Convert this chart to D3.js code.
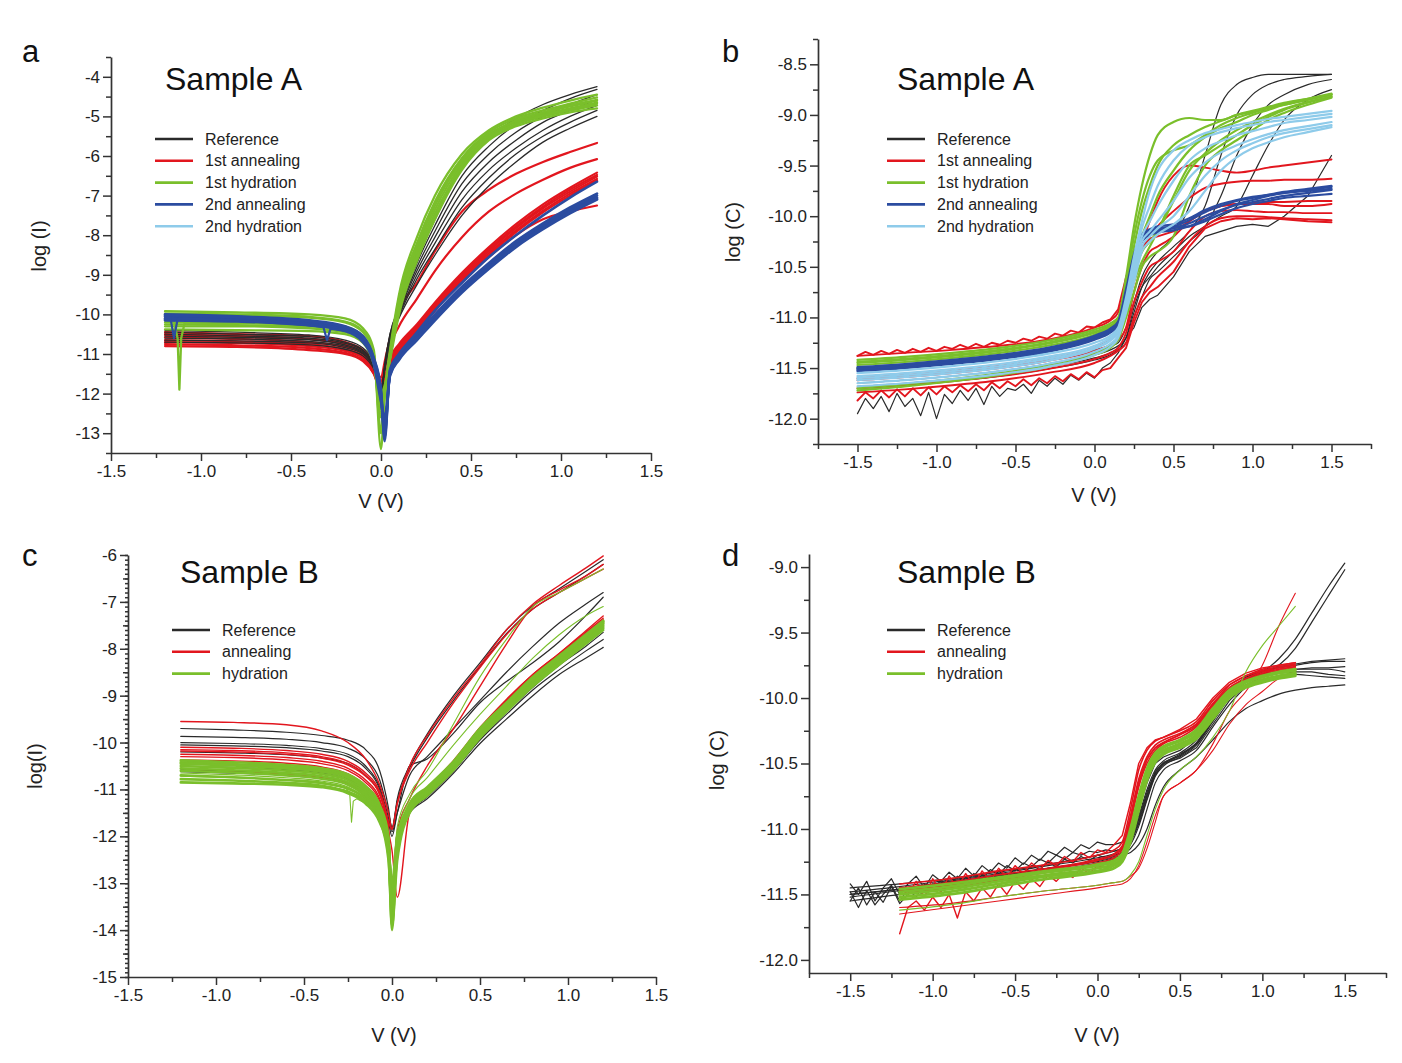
<!DOCTYPE html>
<html><head><meta charset="utf-8">
<script src="https://cdn.jsdelivr.net/npm/d3@7"></script>
<style>
body{margin:0;background:#fff}
svg{display:block}
text{font-family:"Liberation Sans",Arial,Helvetica,sans-serif}
</style>
</head><body>
<svg id="chart" width="1402" height="1063"></svg>
<script>
// ================= DATA =================
// ---- tick labels ----
const xTicksA = [-1.5,-1.0,-0.5,0.0,0.5,1.0,1.5];
const yTicksA = [-13,-12,-11,-10,-9,-8,-7,-6,-5,-4];
const xTicksB = [-1.5,-1.0,-0.5,0.0,0.5,1.0,1.5];
const yTicksB = [-12.0,-11.5,-11.0,-10.5,-10.0,-9.5,-9.0,-8.5];
const xTicksC = [-1.5,-1.0,-0.5,0.0,0.5,1.0,1.5];
const yTicksC = [-15,-14,-13,-12,-11,-10,-9,-8,-7,-6];
const xTicksD = [-1.5,-1.0,-0.5,0.0,0.5,1.0,1.5];
const yTicksD = [-12.0,-11.5,-11.0,-10.5,-10.0,-9.5,-9.0];

const legendA = ["Reference","1st annealing","1st hydration","2nd annealing","2nd hydration"];
const legendB = ["Reference","annealing","hydration"];

// ---- Panel a : log(I) vs V, Sample A ----
const aV = [-1.2,-0.8,-0.4,-0.2,-0.1,-0.04,0,0.02,0.05,0.1,0.2,0.3,0.45,0.6,0.75,0.9,1.05,1.2];
const aReference = [
 [-10.4,-10.45,-10.52,-10.65,-10.85,-11.2,-12.2,-11.3,-10.5,-9.8,-8.6,-7.6,-6.3,-5.55,-5.05,-4.7,-4.45,-4.25],
 [-10.45,-10.5,-10.56,-10.7,-10.9,-11.25,-12.1,-11.3,-10.5,-9.85,-8.7,-7.75,-6.5,-5.75,-5.2,-4.85,-4.55,-4.32],
 [-10.5,-10.54,-10.6,-10.73,-10.92,-11.28,-12.0,-11.35,-10.55,-9.9,-8.8,-7.9,-6.7,-5.95,-5.4,-5.0,-4.7,-4.45],
 [-10.55,-10.58,-10.64,-10.77,-10.95,-11.3,-12.0,-11.35,-10.6,-9.95,-8.9,-8.05,-6.9,-6.15,-5.6,-5.15,-4.85,-4.58],
 [-10.6,-10.62,-10.68,-10.8,-10.98,-11.32,-11.9,-11.4,-10.6,-10.0,-9.0,-8.2,-7.1,-6.35,-5.8,-5.35,-5.0,-4.72],
 [-10.65,-10.67,-10.72,-10.84,-11.0,-11.35,-11.9,-11.4,-10.65,-10.05,-9.1,-8.35,-7.3,-6.55,-5.95,-5.5,-5.15,-4.85],
 [-10.7,-10.72,-10.77,-10.88,-11.05,-11.38,-11.85,-11.45,-10.7,-10.1,-9.25,-8.5,-7.5,-6.75,-6.15,-5.65,-5.3,-5.0]
];
const aAnnealing1 = [
 [-10.5,-10.55,-10.62,-10.75,-10.95,-11.3,-11.75,-11.6,-11.1,-10.75,-10.25,-9.7,-8.95,-8.3,-7.72,-7.22,-6.8,-6.42],
 [-10.58,-10.62,-10.7,-10.82,-11.0,-11.35,-11.8,-11.65,-11.15,-10.8,-10.3,-9.75,-9.0,-8.35,-7.78,-7.28,-6.85,-6.48],
 [-10.65,-10.68,-10.75,-10.88,-11.05,-11.4,-11.85,-11.7,-11.2,-10.85,-10.35,-9.8,-9.05,-8.4,-7.82,-7.32,-6.9,-6.52],
 [-10.7,-10.72,-10.8,-10.92,-11.1,-11.45,-11.9,-11.75,-11.25,-10.9,-10.4,-9.85,-9.1,-8.45,-7.88,-7.38,-6.95,-6.58],
 [-10.75,-10.78,-10.85,-10.97,-11.15,-11.5,-11.95,-11.8,-11.3,-10.95,-10.45,-9.9,-9.15,-8.5,-7.92,-7.42,-7.0,-6.62],
 [-10.8,-10.82,-10.9,-11.0,-11.18,-11.5,-11.9,-11.8,-11.3,-10.95,-10.45,-9.9,-9.15,-8.55,-8.0,-7.6,-7.4,-7.25],
 [-10.45,-10.5,-10.55,-10.7,-10.9,-11.2,-11.6,-11.2,-10.6,-9.9,-9.2,-8.4,-7.4,-6.85,-6.45,-6.15,-5.9,-5.67],
 [-10.52,-10.56,-10.62,-10.76,-10.95,-11.25,-11.7,-11.4,-10.8,-10.3,-9.6,-8.9,-8.05,-7.4,-6.95,-6.6,-6.3,-6.08]
];
const aHydration1 = [
 [-9.92,-9.95,-10.0,-10.1,-10.35,-10.9,-13.4,-12.0,-10.9,-9.5,-8.05,-7.0,-5.95,-5.35,-5.0,-4.78,-4.6,-4.45],
 [-10.0,-10.02,-10.08,-10.2,-10.45,-11.0,-12.9,-12.1,-11.0,-9.6,-8.2,-7.15,-6.05,-5.4,-5.05,-4.85,-4.68,-4.52],
 [-10.1,-10.12,-10.18,-10.3,-10.55,-11.1,-12.6,-12.0,-11.05,-9.7,-8.3,-7.25,-6.1,-5.45,-5.12,-4.92,-4.75,-4.6],
 [-10.2,-10.22,-10.27,-10.38,-10.62,-11.15,-12.4,-11.9,-11.1,-9.8,-8.4,-7.35,-6.2,-5.5,-5.15,-4.95,-4.8,-4.65],
 [-10.3,-10.3,-10.35,-10.45,-10.68,-11.2,-12.2,-11.9,-11.1,-9.9,-8.5,-7.45,-6.3,-5.55,-5.2,-5.0,-4.85,-4.72],
 [-10.38,-10.4,-10.42,-10.5,-10.72,-11.25,-12.0,-11.8,-11.15,-10.0,-8.65,-7.6,-6.35,-5.6,-5.25,-5.05,-4.9,-4.8],
 [-9.98,-10.0,-10.06,-10.18,-10.42,-11.0,-13.0,-12.1,-11.0,-9.65,-8.25,-7.2,-6.15,-5.5,-5.1,-4.9,-4.72,-4.58],
 [-10.25,-10.27,-10.3,-10.4,-10.65,-11.2,-12.5,-12.0,-11.1,-9.85,-8.55,-7.5,-6.25,-5.55,-5.2,-4.98,-4.82,-4.68]
];
const aHydration1SpikeV = [-1.2,-1.15,-1.13,-1.12,-1.11,-1.09,-0.8];
const aHydration1Spike  = [-10.15,-10.18,-10.6,-11.9,-10.6,-10.2,-10.22];
const aAnnealing2 = [
 [-10.0,-10.05,-10.15,-10.3,-10.55,-11.1,-11.9,-13.2,-11.4,-11.0,-10.5,-10.0,-9.3,-8.7,-8.15,-7.7,-7.3,-6.95],
 [-10.05,-10.1,-10.2,-10.35,-10.6,-11.15,-12.0,-13.0,-11.45,-11.05,-10.55,-10.05,-9.35,-8.75,-8.2,-7.75,-7.35,-7.0],
 [-10.1,-10.13,-10.22,-10.38,-10.65,-11.2,-12.1,-12.8,-11.5,-11.1,-10.6,-10.1,-9.4,-8.8,-8.25,-7.8,-7.4,-7.05],
 [-10.15,-10.18,-10.27,-10.42,-10.7,-11.25,-12.2,-12.6,-11.55,-11.15,-10.65,-10.15,-9.45,-8.85,-8.3,-7.85,-7.45,-7.1],
 [-10.02,-10.07,-10.17,-10.32,-10.58,-11.12,-11.95,-13.1,-11.42,-11.02,-10.45,-9.9,-9.2,-8.55,-8.0,-7.5,-7.05,-6.65],
 [-10.12,-10.15,-10.25,-10.4,-10.68,-11.22,-12.15,-12.9,-11.52,-11.12,-10.62,-10.12,-9.42,-8.82,-8.27,-7.82,-7.42,-7.08]
];
const aAnnealing2SpikeV = [-1.2,-1.17,-1.15,-1.13,-1.1,-0.8,-0.4,-0.32,-0.3,-0.28,-0.2];
const aAnnealing2Spike  = [-10.05,-10.08,-10.6,-10.12,-10.1,-10.15,-10.28,-10.32,-10.65,-10.36,-10.42];

// ---- Panel b : log(C) vs V, Sample A ----
const bV = [-1.5,-1.2,-0.9,-0.6,-0.3,0,0.1,0.15,0.2,0.25,0.3,0.35,0.4,0.5,0.6,0.7,0.8,0.9,1.0,1.1,1.2,1.35,1.5];
const bReference = [
 [-11.6,-11.57,-11.53,-11.48,-11.41,-11.32,-11.28,-11.25,-11.1,-10.85,-10.6,-10.45,-10.35,-10.2,-9.9,-9.4,-8.9,-8.7,-8.63,-8.6,-8.6,-8.6,-8.6],
 [-11.65,-11.62,-11.58,-11.53,-11.46,-11.37,-11.32,-11.28,-11.2,-10.95,-10.7,-10.55,-10.45,-10.3,-10.15,-9.9,-9.4,-9.0,-8.8,-8.7,-8.65,-8.62,-8.6],
 [-11.7,-11.67,-11.63,-11.58,-11.51,-11.42,-11.37,-11.32,-11.25,-11.0,-10.8,-10.62,-10.55,-10.4,-10.25,-10.1,-9.8,-9.4,-9.1,-8.9,-8.8,-8.7,-8.65],
 [-11.68,-11.65,-11.61,-11.56,-11.49,-11.4,-11.35,-11.3,-11.2,-10.9,-10.7,-10.6,-10.5,-10.35,-10.2,-10.1,-10.0,-9.9,-9.6,-9.3,-9.05,-8.85,-8.75]
];
const bAnnealing1 = [
 [-11.38,-11.35,-11.32,-11.28,-11.22,-11.1,-11.03,-10.95,-10.7,-10.45,-10.25,-10.05,-9.85,-9.6,-9.5,-9.52,-9.55,-9.57,-9.55,-9.52,-9.5,-9.47,-9.44],
 [-11.6,-11.57,-11.53,-11.48,-11.41,-11.3,-11.22,-11.15,-10.9,-10.55,-10.35,-10.2,-10.1,-9.95,-9.82,-9.72,-9.68,-9.66,-9.65,-9.65,-9.64,-9.64,-9.63],
 [-11.62,-11.59,-11.55,-11.5,-11.43,-11.33,-11.27,-11.22,-11.1,-10.75,-10.5,-10.35,-10.3,-10.2,-10.05,-9.95,-9.9,-9.88,-9.88,-9.88,-9.9,-9.9,-9.88],
 [-11.7,-11.67,-11.63,-11.58,-11.51,-11.41,-11.35,-11.3,-11.15,-10.85,-10.65,-10.5,-10.45,-10.35,-10.15,-10.0,-9.95,-9.94,-9.95,-9.96,-9.96,-9.97,-9.97],
 [-11.74,-11.71,-11.67,-11.62,-11.55,-11.45,-11.38,-11.33,-11.25,-11.0,-10.8,-10.7,-10.6,-10.45,-10.25,-10.1,-10.02,-10.0,-10.0,-10.01,-10.02,-10.03,-10.04]
];
const bHydration1 = [
 [-11.42,-11.39,-11.35,-11.3,-11.23,-11.12,-11.06,-11.0,-10.6,-10.1,-9.7,-9.4,-9.2,-9.07,-9.03,-9.05,-9.05,-9.0,-8.97,-8.93,-8.9,-8.85,-8.8],
 [-11.45,-11.42,-11.38,-11.33,-11.26,-11.15,-11.09,-11.03,-10.7,-10.3,-9.95,-9.7,-9.5,-9.3,-9.2,-9.12,-9.06,-9.0,-8.96,-8.92,-8.88,-8.84,-8.8],
 [-11.47,-11.44,-11.4,-11.35,-11.28,-11.17,-11.1,-11.05,-10.8,-10.45,-10.2,-10.0,-9.8,-9.55,-9.35,-9.22,-9.13,-9.07,-9.0,-8.95,-8.9,-8.85,-8.8],
 [-11.5,-11.47,-11.43,-11.38,-11.31,-11.2,-11.13,-11.08,-10.85,-10.55,-10.35,-10.25,-10.15,-9.85,-9.55,-9.38,-9.25,-9.15,-9.07,-9.0,-8.94,-8.87,-8.82],
 [-11.7,-11.66,-11.61,-11.55,-11.47,-11.35,-11.28,-11.2,-10.95,-10.65,-10.45,-10.3,-10.15,-9.8,-9.5,-9.4,-9.3,-9.2,-9.1,-9.02,-8.95,-8.88,-8.82],
 [-11.72,-11.68,-11.63,-11.57,-11.49,-11.37,-11.3,-11.22,-11.0,-10.75,-10.5,-10.4,-10.35,-10.2,-9.8,-9.5,-9.35,-9.25,-9.15,-9.05,-8.98,-8.9,-8.83],
 [-11.44,-11.41,-11.37,-11.32,-11.25,-11.14,-11.08,-11.02,-10.65,-10.2,-9.85,-9.6,-9.45,-9.35,-9.3,-9.2,-9.1,-9.03,-8.98,-8.93,-8.89,-8.84,-8.79]
];
const bAnnealing2 = [
 [-11.5,-11.47,-11.43,-11.38,-11.31,-11.19,-11.12,-11.05,-10.75,-10.4,-10.2,-10.15,-10.12,-10.1,-10.04,-9.96,-9.9,-9.85,-9.82,-9.79,-9.76,-9.73,-9.7],
 [-11.52,-11.49,-11.45,-11.4,-11.33,-11.21,-11.14,-11.07,-10.8,-10.45,-10.22,-10.17,-10.14,-10.12,-10.07,-10.0,-9.94,-9.89,-9.86,-9.83,-9.8,-9.77,-9.74],
 [-11.51,-11.48,-11.44,-11.39,-11.32,-11.2,-11.13,-11.06,-10.78,-10.42,-10.21,-10.16,-10.13,-10.11,-10.1,-10.05,-9.98,-9.92,-9.88,-9.85,-9.82,-9.8,-9.78],
 [-11.53,-11.5,-11.46,-11.41,-11.34,-11.22,-11.15,-11.08,-10.82,-10.48,-10.25,-10.19,-10.16,-10.14,-10.1,-10.03,-9.95,-9.88,-9.84,-9.8,-9.77,-9.74,-9.71],
 [-11.49,-11.46,-11.42,-11.37,-11.3,-11.18,-11.11,-11.04,-10.72,-10.38,-10.18,-10.13,-10.1,-10.08,-10.02,-9.94,-9.88,-9.84,-9.81,-9.79,-9.77,-9.75,-9.73]
];
const bHydration2 = [
 [-11.55,-11.52,-11.48,-11.43,-11.36,-11.25,-11.18,-11.1,-10.8,-10.4,-10.05,-9.75,-9.55,-9.35,-9.25,-9.18,-9.14,-9.1,-9.07,-9.04,-9.02,-8.99,-8.96],
 [-11.58,-11.55,-11.51,-11.46,-11.39,-11.28,-11.2,-11.12,-10.85,-10.5,-10.2,-10.05,-9.9,-9.65,-9.45,-9.33,-9.26,-9.2,-9.16,-9.12,-9.08,-9.05,-9.02],
 [-11.62,-11.59,-11.55,-11.5,-11.43,-11.31,-11.23,-11.15,-10.9,-10.55,-10.25,-10.15,-10.05,-9.85,-9.62,-9.47,-9.37,-9.3,-9.24,-9.19,-9.15,-9.11,-9.07],
 [-11.65,-11.62,-11.58,-11.53,-11.46,-11.34,-11.26,-11.18,-10.92,-10.6,-10.3,-10.2,-10.12,-10.0,-9.8,-9.6,-9.45,-9.35,-9.28,-9.22,-9.18,-9.14,-9.1],
 [-11.6,-11.57,-11.53,-11.48,-11.41,-11.3,-11.22,-11.13,-10.87,-10.45,-10.12,-9.9,-9.7,-9.45,-9.3,-9.22,-9.17,-9.13,-9.1,-9.07,-9.05,-9.02,-8.99],
 [-11.68,-11.65,-11.61,-11.56,-11.49,-11.37,-11.29,-11.2,-10.95,-10.65,-10.35,-10.25,-10.18,-10.08,-9.95,-9.75,-9.55,-9.42,-9.33,-9.27,-9.22,-9.17,-9.12]
];
// noisy low-bias traces of panel b (low part + tail)
const bNoiseV = [-1.5,-1.45,-1.4,-1.35,-1.3,-1.25,-1.2,-1.15,-1.1,-1.05,-1.0,-0.95,-0.9,-0.85,-0.8,-0.75,-0.7,-0.65,-0.6,-0.55,-0.5,-0.45,-0.4,-0.35,-0.3,-0.25,-0.2,-0.15,-0.1,-0.05,0,0.05,0.1,0.15];
const bTailV = [0.2,0.25,0.3,0.35,0.4,0.5,0.6,0.7,0.8,0.9,1.0,1.1,1.2,1.35,1.5];
const bAnnealing1NoisyLow = [
 [-11.82,-11.74,-11.8,-11.72,-11.79,-11.71,-11.78,-11.7,-11.77,-11.69,-11.76,-11.68,-11.74,-11.67,-11.73,-11.66,-11.72,-11.64,-11.7,-11.63,-11.68,-11.61,-11.67,-11.6,-11.65,-11.58,-11.63,-11.56,-11.61,-11.54,-11.59,-11.52,-11.5,-11.4],
 [-11.38,-11.34,-11.37,-11.33,-11.36,-11.32,-11.35,-11.31,-11.34,-11.3,-11.33,-11.29,-11.31,-11.27,-11.3,-11.26,-11.29,-11.25,-11.27,-11.23,-11.25,-11.21,-11.23,-11.19,-11.21,-11.16,-11.18,-11.13,-11.15,-11.09,-11.1,-11.05,-11.02,-10.92]
];
const bAnnealing1NoisyTail = [
 [-11.3,-11.05,-10.85,-10.75,-10.7,-10.55,-10.3,-10.12,-10.05,-10.02,-10.03,-10.02,-10.03,-10.05,-10.06],
 [-10.6,-10.4,-10.3,-10.22,-10.2,-10.15,-10.05,-9.95,-9.9,-9.88,-9.87,-9.86,-9.86,-9.85,-9.85]
];
const bReferenceNoisyLow = [
 [-11.95,-11.8,-11.9,-11.78,-11.93,-11.75,-11.88,-11.8,-11.97,-11.74,-12.0,-11.76,-11.85,-11.72,-11.82,-11.7,-11.86,-11.68,-11.78,-11.7,-11.72,-11.66,-11.75,-11.62,-11.68,-11.6,-11.66,-11.57,-11.62,-11.55,-11.6,-11.5,-11.45,-11.35]
];
const bReferenceNoisyTail = [
 [-11.2,-11.1,-10.9,-10.82,-10.78,-10.6,-10.35,-10.2,-10.15,-10.1,-10.08,-10.1,-10.0,-9.8,-9.4]
];

// ---- Panel c : log(I) vs V, Sample B ----
const cV = [-1.2,-0.9,-0.6,-0.4,-0.25,-0.15,-0.07,-0.02,0,0.03,0.1,0.2,0.35,0.5,0.65,0.8,0.95,1.1,1.2];
const cReference = [
 [-9.7,-9.73,-9.78,-9.85,-9.95,-10.15,-10.6,-11.4,-11.85,-11.2,-10.5,-9.82,-9.0,-8.3,-7.6,-7.08,-6.72,-6.35,-6.1],
 [-9.87,-9.89,-9.93,-10.0,-10.12,-10.35,-10.8,-11.5,-11.8,-11.25,-10.55,-9.9,-9.1,-8.38,-7.68,-7.15,-6.8,-6.45,-6.2],
 [-10.0,-10.02,-10.06,-10.13,-10.25,-10.5,-10.95,-11.6,-11.9,-11.5,-10.7,-10.3,-9.7,-9.1,-8.5,-7.95,-7.45,-7.05,-6.8],
 [-10.05,-10.07,-10.11,-10.18,-10.3,-10.55,-11.0,-11.7,-12.0,-11.5,-10.5,-10.35,-9.8,-9.15,-8.7,-8.3,-7.85,-7.3,-6.9],
 [-10.2,-10.22,-10.26,-10.33,-10.45,-10.7,-11.1,-11.9,-13.0,-12.2,-11.45,-11.1,-10.5,-9.82,-9.25,-8.72,-8.28,-7.85,-7.55],
 [-10.5,-10.53,-10.58,-10.65,-10.78,-11.0,-11.4,-12.0,-13.3,-12.1,-11.5,-11.15,-10.6,-9.95,-9.4,-8.88,-8.45,-8.05,-7.8],
 [-10.58,-10.61,-10.66,-10.73,-10.85,-11.05,-11.45,-12.0,-13.5,-12.0,-11.5,-11.2,-10.65,-10.02,-9.5,-9.0,-8.55,-8.2,-7.97],
 [-10.62,-10.65,-10.7,-10.77,-10.89,-11.08,-11.48,-12.1,-13.2,-12.0,-11.48,-11.15,-10.58,-9.92,-9.35,-8.82,-8.35,-7.95,-7.65]
];
const cAnnealing = [
 [-9.55,-9.57,-9.62,-9.75,-10.0,-10.35,-10.9,-11.5,-11.85,-11.3,-10.5,-9.85,-9.05,-8.35,-7.6,-7.05,-6.65,-6.28,-6.02],
 [-10.1,-10.12,-10.17,-10.25,-10.4,-10.65,-11.05,-11.8,-13.9,-12.4,-11.45,-11.05,-10.45,-9.75,-9.15,-8.6,-8.15,-7.7,-7.4],
 [-10.18,-10.2,-10.25,-10.33,-10.48,-10.72,-11.1,-11.9,-13.7,-12.3,-11.4,-11.0,-10.4,-9.7,-9.1,-8.55,-8.1,-7.65,-7.35],
 [-10.25,-10.27,-10.32,-10.4,-10.55,-10.8,-11.2,-11.9,-12.3,-13.3,-11.5,-11.05,-10.45,-9.75,-9.15,-8.6,-8.15,-7.7,-7.4],
 [-10.3,-10.32,-10.37,-10.45,-10.6,-10.85,-11.25,-12.0,-14.0,-12.2,-11.42,-11.02,-10.42,-9.72,-9.12,-8.58,-8.12,-7.68,-7.38],
 [-10.37,-10.39,-10.44,-10.52,-10.67,-10.92,-11.3,-12.1,-13.5,-12.0,-11.38,-10.98,-10.38,-9.68,-9.08,-8.55,-8.1,-7.62,-7.3],
 [-10.15,-10.17,-10.22,-10.3,-10.45,-10.7,-11.1,-11.7,-11.85,-11.3,-10.6,-10.0,-9.15,-8.4,-7.7,-7.15,-6.8,-6.5,-6.3],
 [-10.6,-10.63,-10.68,-10.75,-10.88,-11.1,-11.5,-12.2,-13.0,-11.9,-11.2,-10.5,-9.7,-8.8,-7.9,-7.1,-6.75,-6.45,-6.2]
];
const cHydration = [
 [-10.38,-10.42,-10.48,-10.55,-10.68,-10.93,-11.33,-12.0,-13.6,-12.2,-11.3,-10.95,-10.4,-9.7,-9.15,-8.6,-8.15,-7.7,-7.4],
 [-10.42,-10.46,-10.52,-10.59,-10.72,-10.97,-11.37,-12.1,-13.8,-12.3,-11.33,-10.98,-10.43,-9.73,-9.18,-8.63,-8.18,-7.73,-7.43],
 [-10.45,-10.49,-10.55,-10.62,-10.75,-11.0,-11.4,-12.2,-14.0,-12.1,-11.36,-11.02,-10.47,-9.77,-9.22,-8.67,-8.22,-7.77,-7.47],
 [-10.5,-10.54,-10.6,-10.67,-10.8,-11.05,-11.45,-12.1,-13.4,-12.0,-11.4,-11.05,-10.5,-9.8,-9.25,-8.7,-8.25,-7.8,-7.5],
 [-10.55,-10.59,-10.65,-10.72,-10.85,-11.1,-11.5,-12.2,-13.2,-12.2,-11.43,-11.08,-10.53,-9.83,-9.28,-8.73,-8.28,-7.83,-7.53],
 [-10.6,-10.64,-10.7,-10.77,-10.9,-11.15,-11.55,-12.3,-13.6,-12.4,-11.46,-11.1,-10.55,-9.86,-9.3,-8.76,-8.3,-7.86,-7.56],
 [-10.7,-10.74,-10.8,-10.86,-10.98,-11.2,-11.6,-12.4,-13.9,-12.5,-11.5,-11.13,-10.58,-9.9,-9.34,-8.8,-8.34,-7.9,-7.6],
 [-10.78,-10.81,-10.86,-10.92,-11.05,-11.25,-11.65,-12.5,-13.5,-12.3,-11.42,-11.06,-10.48,-9.78,-9.2,-8.65,-8.2,-7.75,-7.45],
 [-10.85,-10.87,-10.9,-10.95,-11.08,-11.3,-11.7,-12.3,-13.0,-12.0,-11.38,-11.02,-10.45,-9.75,-9.17,-8.62,-8.17,-7.72,-7.42]
];
const cHydrationThin = [
 [-10.65,-10.69,-10.75,-10.82,-10.95,-11.2,-11.6,-12.2,-13.0,-11.8,-11.1,-10.6,-9.6,-8.6,-7.8,-7.1,-6.8,-6.5,-6.3],
 [-10.72,-10.75,-10.8,-10.88,-11.0,-11.22,-11.62,-12.3,-13.3,-12.0,-11.2,-10.75,-10.05,-9.4,-8.8,-8.2,-7.7,-7.3,-7.1]
];
const cHydrationSpikeV = [-0.4,-0.26,-0.24,-0.23,-0.22,-0.2,-0.15];
const cHydrationSpike  = [-10.85,-10.98,-11.1,-11.7,-11.25,-11.2,-11.3];

// ---- Panel d : log(C) vs V, Sample B ----
const dV = [-1.2,-0.9,-0.6,-0.3,0,0.1,0.15,0.2,0.25,0.3,0.35,0.4,0.5,0.6,0.7,0.8,0.9,1.0,1.1,1.2];
const dRefV = [-1.5,-1.2,-0.9,-0.6,-0.3,0,0.1,0.15,0.2,0.25,0.3,0.35,0.4,0.5,0.6,0.7,0.8,0.9,1.0,1.1,1.2,1.3,1.4,1.5];
const dReference = [
 [-11.45,-11.42,-11.38,-11.33,-11.27,-11.2,-11.17,-11.15,-11.05,-10.9,-10.7,-10.55,-10.48,-10.42,-10.32,-10.12,-9.95,-9.85,-9.8,-9.77,-9.75,-9.73,-9.72,-9.72],
 [-11.5,-11.46,-11.4,-11.35,-11.3,-11.24,-11.2,-11.18,-11.12,-10.98,-10.78,-10.6,-10.52,-10.45,-10.36,-10.18,-10.0,-9.88,-9.83,-9.8,-9.78,-9.78,-9.78,-9.8],
 [-11.55,-11.5,-11.44,-11.38,-11.32,-11.26,-11.23,-11.2,-11.15,-11.05,-10.85,-10.65,-10.55,-10.48,-10.4,-10.22,-10.05,-9.92,-9.86,-9.83,-9.82,-9.83,-9.84,-9.85],
 [-11.48,-11.44,-11.39,-11.34,-11.28,-11.22,-11.19,-11.16,-11.08,-10.93,-10.74,-10.57,-10.5,-10.43,-10.34,-10.15,-9.98,-9.86,-9.8,-9.7,-9.55,-9.35,-9.15,-8.97],
 [-11.52,-11.47,-11.41,-11.36,-11.3,-11.24,-11.21,-11.18,-11.1,-10.96,-10.77,-10.59,-10.51,-10.44,-10.35,-10.17,-9.99,-9.87,-9.82,-9.75,-9.62,-9.42,-9.22,-9.02],
 [-11.5,-11.46,-11.41,-11.36,-11.3,-11.25,-11.22,-11.2,-11.18,-11.12,-11.0,-10.82,-10.68,-10.55,-10.45,-10.32,-10.18,-10.08,-10.02,-9.97,-9.94,-9.92,-9.91,-9.9]
];
const dNoiseV = [-1.5,-1.45,-1.4,-1.35,-1.3,-1.25,-1.2,-1.15,-1.1,-1.05,-1.0,-0.95,-0.9,-0.85,-0.8,-0.75,-0.7,-0.65,-0.6,-0.55,-0.5,-0.45,-0.4,-0.35,-0.3,-0.25,-0.2,-0.15,-0.1,-0.05,0,0.05,0.1,0.15];
const dRefTailV = [0.2,0.25,0.3,0.35,0.4,0.5,0.6,0.7,0.8,0.9,1.0,1.1,1.2,1.3,1.4,1.5];
const dReferenceNoisyLow = [
 [-11.42,-11.5,-11.4,-11.55,-11.45,-11.38,-11.5,-11.42,-11.36,-11.45,-11.35,-11.4,-11.33,-11.38,-11.3,-11.36,-11.28,-11.33,-11.26,-11.3,-11.22,-11.27,-11.2,-11.24,-11.17,-11.2,-11.14,-11.18,-11.12,-11.15,-11.1,-11.12,-11.12,-11.1],
 [-11.55,-11.45,-11.58,-11.48,-11.56,-11.44,-11.57,-11.5,-11.45,-11.52,-11.42,-11.48,-11.4,-11.45,-11.37,-11.42,-11.35,-11.4,-11.32,-11.37,-11.3,-11.34,-11.28,-11.31,-11.25,-11.29,-11.23,-11.26,-11.21,-11.24,-11.2,-11.22,-11.2,-11.18],
 [-11.48,-11.6,-11.47,-11.58,-11.5,-11.43,-11.55,-11.46,-11.52,-11.42,-11.47,-11.39,-11.44,-11.36,-11.41,-11.34,-11.38,-11.31,-11.35,-11.28,-11.32,-11.26,-11.29,-11.23,-11.26,-11.2,-11.23,-11.18,-11.2,-11.17,-11.18,-11.16,-11.17,-11.15]
];
const dReferenceNoisyTail = [
 [-11.02,-10.85,-10.65,-10.5,-10.45,-10.4,-10.3,-10.1,-9.93,-9.84,-9.79,-9.76,-9.74,-9.72,-9.71,-9.7],
 [-11.1,-10.95,-10.75,-10.58,-10.5,-10.46,-10.38,-10.2,-10.02,-9.9,-9.84,-9.81,-9.8,-9.8,-9.82,-9.83],
 [-11.08,-10.92,-10.72,-10.56,-10.49,-10.44,-10.35,-10.16,-9.98,-9.88,-9.82,-9.79,-9.78,-9.77,-9.77,-9.76]
];
const dAnnealing = [
 [-11.42,-11.38,-11.32,-11.27,-11.2,-11.16,-11.1,-10.85,-10.55,-10.4,-10.33,-10.3,-10.25,-10.18,-10.02,-9.9,-9.83,-9.78,-9.75,-9.73],
 [-11.45,-11.41,-11.35,-11.3,-11.23,-11.19,-11.13,-10.9,-10.62,-10.45,-10.36,-10.32,-10.27,-10.2,-10.05,-9.92,-9.85,-9.8,-9.77,-9.75],
 [-11.5,-11.45,-11.39,-11.33,-11.26,-11.22,-11.16,-10.95,-10.68,-10.5,-10.4,-10.35,-10.3,-10.22,-10.07,-9.94,-9.87,-9.82,-9.79,-9.77],
 [-11.47,-11.43,-11.37,-11.31,-11.24,-11.2,-11.14,-10.92,-10.65,-10.47,-10.38,-10.34,-10.28,-10.21,-10.06,-9.93,-9.86,-9.81,-9.78,-9.76]
];
const dAnnealingThin = [
 [-11.65,-11.6,-11.55,-11.5,-11.45,-11.43,-11.42,-11.38,-11.28,-11.1,-10.9,-10.75,-10.65,-10.55,-10.35,-10.1,-9.95,-9.75,-9.45,-9.2],
 [-11.6,-11.57,-11.52,-11.47,-11.43,-11.41,-11.4,-11.36,-11.3,-11.15,-10.95,-10.75,-10.65,-10.55,-10.4,-10.2,-10.05,-9.95,-9.85,-9.8]
];
const dRedNoiseV = [-1.2,-1.15,-1.1,-1.05,-1.0,-0.95,-0.9,-0.85,-0.8,-0.75,-0.7,-0.65,-0.6,-0.55,-0.5,-0.45,-0.4,-0.35,-0.3,-0.25,-0.2,-0.15,-0.1,-0.05,0,0.05,0.1,0.15];
const dRedTailV = [0.2,0.25,0.3,0.35,0.4,0.5,0.6,0.7,0.8,0.9,1.0,1.1,1.2];
const dAnnealingNoisyLow = [
 [-11.8,-11.6,-11.55,-11.62,-11.52,-11.6,-11.5,-11.68,-11.48,-11.55,-11.45,-11.52,-11.42,-11.5,-11.4,-11.46,-11.38,-11.44,-11.35,-11.4,-11.33,-11.37,-11.3,-11.34,-11.28,-11.3,-11.25,-11.2],
 [-11.45,-11.5,-11.4,-11.52,-11.38,-11.48,-11.36,-11.45,-11.34,-11.43,-11.32,-11.4,-11.3,-11.37,-11.28,-11.34,-11.26,-11.31,-11.24,-11.28,-11.21,-11.25,-11.18,-11.22,-11.16,-11.18,-11.12,-11.05]
];
const dAnnealingNoisyTail = [
 [-10.95,-10.65,-10.47,-10.38,-10.34,-10.28,-10.2,-10.04,-9.9,-9.83,-9.79,-9.76,-9.74],
 [-10.8,-10.5,-10.38,-10.32,-10.3,-10.24,-10.16,-10.0,-9.88,-9.81,-9.77,-9.75,-9.73]
];
const dHydration = [
 [-11.46,-11.42,-11.37,-11.32,-11.27,-11.24,-11.19,-11.0,-10.75,-10.54,-10.42,-10.37,-10.32,-10.24,-10.08,-9.94,-9.87,-9.83,-9.8,-9.78],
 [-11.5,-11.46,-11.4,-11.35,-11.3,-11.27,-11.22,-11.05,-10.8,-10.58,-10.45,-10.4,-10.35,-10.28,-10.12,-9.97,-9.9,-9.86,-9.83,-9.81],
 [-11.54,-11.5,-11.44,-11.38,-11.33,-11.3,-11.25,-11.1,-10.86,-10.63,-10.49,-10.43,-10.38,-10.31,-10.16,-10.0,-9.92,-9.88,-9.85,-9.83],
 [-11.48,-11.44,-11.38,-11.33,-11.28,-11.25,-11.2,-11.02,-10.78,-10.56,-10.44,-10.38,-10.33,-10.26,-10.1,-9.96,-9.88,-9.84,-9.81,-9.79],
 [-11.52,-11.48,-11.42,-11.36,-11.32,-11.28,-11.24,-11.08,-10.83,-10.6,-10.47,-10.42,-10.36,-10.3,-10.14,-9.98,-9.91,-9.87,-9.84,-9.82]
];
const dHydrationThin = [
 [-11.62,-11.58,-11.52,-11.47,-11.43,-11.41,-11.4,-11.35,-11.25,-11.05,-10.85,-10.7,-10.55,-10.45,-10.3,-10.1,-9.8,-9.6,-9.45,-9.3]
];

// ================= DRAWING =================
const COLORS = {ref:"#2a2a2a", ann1:"#e2161e", hyd1:"#7abf2b", ann2:"#2b4ca0", hyd2:"#8ecbea"};
const svg = d3.select("#chart");
svg.append("rect").attr("width",1402).attr("height",1063).attr("fill","#ffffff");

const pts = (V, vals) => V.map((v,i) => [v, vals[i]]);
const joined = (V1, lows, V2, tails) => lows.map((lw,i) => pts(V1,lw).concat(pts(V2,tails[i])));
const fmt1 = d => d.toFixed(1);
const fmt0 = d => String(d);

function drawPanel(p){
  const x = d3.scaleLinear().domain(p.xDomain).range(p.xRange);
  const y = d3.scaleLinear().domain(p.yDomain).range(p.yRange);
  const g = svg.append("g");

  // curves
  p.series.forEach(s => {
    const line = d3.line().x(d => x(d[0])).y(d => y(d[1]))
      .curve(s.linear ? d3.curveLinear : d3.curveMonotoneX);
    g.append("g").selectAll("path").data(s.curves).join("path")
      .attr("d", line).attr("fill","none")
      .attr("stroke", s.color).attr("stroke-width", s.width)
      .attr("stroke-linejoin","round").attr("stroke-linecap","round");
  });

  // axes
  const xMinorG = g.append("g").attr("transform",`translate(0,${p.yRange[0]})`)
    .call(d3.axisBottom(x).tickValues(p.xMinor).tickSize(5).tickFormat(""));
  xMinorG.select(".domain").remove();
  const yMinorG = g.append("g").attr("transform",`translate(${p.xRange[0]},0)`)
    .call(d3.axisLeft(y).tickValues(p.yMinor).tickSize(p.yMinorSize || 5).tickFormat(""));
  yMinorG.select(".domain").remove();
  if (p.yMinor2){
    const yMinor2G = g.append("g").attr("transform",`translate(${p.xRange[0]},0)`)
      .call(d3.axisLeft(y).tickValues(p.yMinor2).tickSize(3).tickFormat(""));
    yMinor2G.select(".domain").remove();
  }
  g.append("g").attr("transform",`translate(0,${p.yRange[0]})`)
    .call(d3.axisBottom(x).tickValues(p.xTicks).tickSize(8).tickSizeOuter(0).tickPadding(4).tickFormat(fmt1));
  g.append("g").attr("transform",`translate(${p.xRange[0]},0)`)
    .call(d3.axisLeft(y).tickValues(p.yTicks).tickSize(8).tickSizeOuter(0).tickPadding(3).tickFormat(p.yFmt));
  g.selectAll(".domain").attr("stroke","#333").attr("stroke-width",1.7);
  g.selectAll(".tick line").attr("stroke","#333").attr("stroke-width",1.5);
  g.selectAll(".tick text").attr("fill","#222").style("font-size","17px");

  // axis titles
  g.append("text").attr("x", p.xTitle[0]).attr("y", p.xTitle[1]).attr("text-anchor","middle")
    .style("font-size","20px").attr("fill","#222").text("V (V)");
  g.append("text").attr("transform",`translate(${p.yTitle[0]},${p.yTitle[1]}) rotate(-90)`)
    .attr("text-anchor","middle").style("font-size","20px").attr("fill","#222").text(p.yLabel);

  // panel letter & sample title
  g.append("text").attr("x", p.letterPos[0]).attr("y", p.letterPos[1])
    .style("font-size","31px").attr("fill","#111").text(p.letter);
  g.append("text").attr("x", p.titlePos[0]).attr("y", p.titlePos[1])
    .style("font-size","32px").attr("fill","#111").text(p.title);

  // legend
  const lg = g.append("g");
  p.legend.forEach((name,i) => {
    const yy = p.legendPos[1] + i*21.8;
    lg.append("line").attr("x1",p.legendPos[0]).attr("x2",p.legendPos[0]+38)
      .attr("y1",yy).attr("y2",yy).attr("stroke",p.legendColors[i]).attr("stroke-width",2.6);
    lg.append("text").attr("x",p.legendPos[0]+50).attr("y",yy).attr("dy","0.35em")
      .style("font-size","16px").attr("fill","#222").text(name);
  });
}

const range = (a,b,s) => d3.range(Math.round((b-a)/s)+1).map(i => +(a+i*s).toFixed(3));

// Panel a
drawPanel({
  xDomain:[-1.5,1.5], xRange:[111,651], yDomain:[-13.5,-3.5], yRange:[453,57],
  xTicks:xTicksA, xMinor:range(-1.25,1.25,0.5), yTicks:yTicksA, yMinor:range(-13.5,-3.5,1),
  yFmt:fmt0, xTitle:[381,508], yTitle:[46,246], yLabel:"log (I)",
  letter:"a", letterPos:[22,62], title:"Sample A", titlePos:[165,90],
  legend:legendA, legendColors:[COLORS.ref,COLORS.ann1,COLORS.hyd1,COLORS.ann2,COLORS.hyd2], legendPos:[155,139],
  series:[
    {curves:aAnnealing1.map(c=>pts(aV,c)), color:COLORS.ann1, width:2.2},
    {curves:aReference.map(c=>pts(aV,c)), color:COLORS.ref, width:1.3},
    {curves:aHydration1.map(c=>pts(aV,c)), color:COLORS.hyd1, width:2.3},
    {curves:[pts(aHydration1SpikeV,aHydration1Spike)], color:COLORS.hyd1, width:2.3, linear:true},
    {curves:aAnnealing2.map(c=>pts(aV,c)), color:COLORS.ann2, width:2.6},
    {curves:[pts(aAnnealing2SpikeV,aAnnealing2Spike)], color:COLORS.ann2, width:2.2, linear:true}
  ]
});

// Panel b
drawPanel({
  xDomain:[-1.75,1.75], xRange:[818,1371], yDomain:[-12.25,-8.25], yRange:[444,39],
  xTicks:xTicksB, xMinor:range(-1.75,1.75,0.5), yTicks:yTicksB, yMinor:range(-12.25,-8.25,0.5),
  yFmt:fmt1, xTitle:[1094,502], yTitle:[740,232], yLabel:"log (C)",
  letter:"b", letterPos:[722,62], title:"Sample A", titlePos:[897,90],
  legend:legendA, legendColors:[COLORS.ref,COLORS.ann1,COLORS.hyd1,COLORS.ann2,COLORS.hyd2], legendPos:[887,139],
  series:[
    {curves:bReference.map(c=>pts(bV,c)), color:COLORS.ref, width:1.2},
    {curves:joined(bNoiseV,bReferenceNoisyLow,bTailV,bReferenceNoisyTail), color:COLORS.ref, width:1.2, linear:true},
    {curves:bAnnealing1.map(c=>pts(bV,c)), color:COLORS.ann1, width:1.9},
    {curves:joined(bNoiseV,bAnnealing1NoisyLow,bTailV,bAnnealing1NoisyTail), color:COLORS.ann1, width:1.9, linear:true},
    {curves:bHydration1.map(c=>pts(bV,c)), color:COLORS.hyd1, width:2.2},
    {curves:bAnnealing2.map(c=>pts(bV,c)), color:COLORS.ann2, width:2.2},
    {curves:bHydration2.map(c=>pts(bV,c)), color:COLORS.hyd2, width:2.2}
  ]
});

// Panel c
drawPanel({
  xDomain:[-1.5,1.5], xRange:[128,656], yDomain:[-15,-6], yRange:[977,555],
  xTicks:xTicksC, xMinor:range(-1.25,1.25,0.5), yTicks:yTicksC, yMinor:range(-14.5,-6.5,1), yMinorSize:5,
  yMinor2:range(-15,-6,0.1),
  yFmt:fmt0, xTitle:[394,1042], yTitle:[42,766], yLabel:"log(I)",
  letter:"c", letterPos:[22,566], title:"Sample B", titlePos:[180,583],
  legend:legendB, legendColors:[COLORS.ref,COLORS.ann1,COLORS.hyd1], legendPos:[172,630],
  series:[
    {curves:cReference.map(c=>pts(cV,c)), color:COLORS.ref, width:1.2},
    {curves:cAnnealing.map(c=>pts(cV,c)), color:COLORS.ann1, width:1.4},
    {curves:cHydrationThin.map(c=>pts(cV,c)), color:COLORS.hyd1, width:1.1},
    {curves:[pts(cHydrationSpikeV,cHydrationSpike)], color:COLORS.hyd1, width:1.1, linear:true},
    {curves:cHydration.map(c=>pts(cV,c)), color:COLORS.hyd1, width:2.6}
  ]
});

// Panel d
drawPanel({
  xDomain:[-1.75,1.75], xRange:[809,1386], yDomain:[-12.1,-8.9], yRange:[973,554],
  xTicks:xTicksD, xMinor:range(-1.75,1.75,0.5), yTicks:yTicksD, yMinor:range(-11.75,-9.25,0.5),
  yFmt:fmt1, xTitle:[1097,1042], yTitle:[724,760], yLabel:"log (C)",
  letter:"d", letterPos:[722,566], title:"Sample B", titlePos:[897,583],
  legend:legendB, legendColors:[COLORS.ref,COLORS.ann1,COLORS.hyd1], legendPos:[887,630],
  series:[
    {curves:dReference.map(c=>pts(dRefV,c)), color:COLORS.ref, width:1.2},
    {curves:joined(dNoiseV,dReferenceNoisyLow,dRefTailV,dReferenceNoisyTail), color:COLORS.ref, width:1.2, linear:true},
    {curves:dAnnealingThin.map(c=>pts(dV,c)), color:COLORS.ann1, width:1.1},
    {curves:dAnnealing.map(c=>pts(dV,c)), color:COLORS.ann1, width:1.6},
    {curves:joined(dRedNoiseV,dAnnealingNoisyLow,dRedTailV,dAnnealingNoisyTail), color:COLORS.ann1, width:1.4, linear:true},
    {curves:dHydrationThin.map(c=>pts(dV,c)), color:COLORS.hyd1, width:1.1},
    {curves:dHydration.map(c=>pts(dV,c)), color:COLORS.hyd1, width:2.8}
  ]
});
</script>
</body></html>
